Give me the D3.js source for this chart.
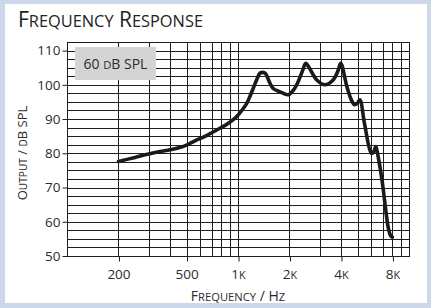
<!DOCTYPE html>
<html>
<head>
<meta charset="utf-8">
<script src="https://cdn.jsdelivr.net/npm/d3@7"></script>
<style>
  html, body { margin: 0; padding: 0; background: #cdd9eb; }
  svg { display: block; }
  text { font-family: "Open Sans", "Noto Sans", sans-serif; fill: #2b2b2b; }
  .sc { text-transform: uppercase; }
</style>
</head>
<body>
<svg id="chart" width="431" height="308"></svg>
<script>
// ---- data ----
const frequencies = [200, 250, 300, 350, 400, 450, 500, 574, 650, 751, 850, 938, 1002, 1060, 1125, 1174, 1228, 1290, 1346, 1441, 1520, 1600, 1750, 1974, 2120, 2220, 2380, 2490, 2620, 2880, 3220, 3610, 3850, 3990, 4330, 4600, 4800, 4970, 5160, 5500, 6020, 6200, 6400, 6600, 6950, 7250, 7550, 7800, 8000];
const outputDb    = [77.6, 78.8, 79.8, 80.5, 81.0, 81.6, 82.4, 83.9, 85.1, 86.8, 88.3, 89.8, 91.2, 92.7, 94.6, 96.6, 99.0, 101.6, 103.4, 103.4, 101.0, 99.0, 98.0, 97.1, 98.6, 100.3, 104.0, 106.3, 104.8, 101.5, 100.0, 101.5, 104.2, 106.3, 99.5, 95.6, 94.2, 94.5, 95.6, 88.5, 80.0, 80.3, 82.0, 79.0, 72.2, 65.0, 58.5, 56.0, 55.5];
const xTickValues = [200, 500, 1000, 2000, 4000, 8000];
const xTickLabels = ["200", "500", "1k", "2k", "4k", "8k"];
const xGridValues = [200, 300, 400, 500, 600, 700, 800, 900, 1000, 2000, 3000, 4000, 5000, 6000, 7000, 8000, 9000];
const yTickValues = [50, 60, 70, 80, 90, 100, 110];
const yGridValues = [52.5, 55, 57.5, 60, 62.5, 65, 67.5, 70, 72.5, 75, 77.5, 80, 82.5, 85, 87.5, 90, 92.5, 95, 97.5, 100, 102.5, 105, 107.5, 110];
const titleText = "Frequency Response";
const xAxisTitle = "Frequency / Hz";
const yAxisTitle = "Output / dB SPL";
const levelLabel = "60 dB SPL";

// ---- helpers ----
function smallCaps(sel, str, size, ratio) {
  sel.text(null);
  const runs = str.match(/[a-z]+|[^a-z]+/g) || [];
  runs.forEach(r => {
    const lower = /^[a-z]+$/.test(r);
    const t = sel.append("tspan").attr("font-size", lower ? size * ratio : size).text(r);
    if (lower) t.attr("class", "sc");
  });
  return sel;
}

// ---- layout ----
const svg = d3.select("#chart");
const plot = { left: 67, right: 409, top: 42, bottom: 256 };

svg.append("rect").attr("x", 5).attr("y", 4).attr("width", 422).attr("height", 299).attr("fill", "#ffffff");

const x = d3.scaleLog().domain([100, 10000]).range([plot.left, plot.right]);
const y = d3.scaleLinear().domain([50, 112.5]).range([plot.bottom, plot.top]);

const px = v => Math.round(v) + 0.5;

// grid
const grid = svg.append("g").attr("stroke", "#1e1e1e").attr("stroke-width", 1).attr("shape-rendering", "crispEdges");
grid.selectAll("line.h").data(yGridValues).join("line")
  .attr("x1", plot.left).attr("x2", plot.right)
  .attr("y1", d => px(y(d))).attr("y2", d => px(y(d)));
grid.selectAll("line.v").data(xGridValues).join("line")
  .attr("y1", plot.top).attr("y2", plot.bottom)
  .attr("x1", d => px(x(d))).attr("x2", d => px(x(d)));
grid.append("rect").attr("x", px(plot.left)).attr("y", px(plot.top))
  .attr("width", Math.round(plot.right) - Math.round(plot.left))
  .attr("height", Math.round(plot.bottom) - Math.round(plot.top))
  .attr("fill", "none");

// axes
const xAxis = d3.axisBottom(x).tickValues(xTickValues).tickFormat(() => "").tickSize(5).tickPadding(4);
const gx = svg.append("g").attr("transform", `translate(0,${px(plot.bottom)})`).call(xAxis);
gx.select(".domain").remove();
gx.selectAll(".tick line").attr("stroke", "#1e1e1e").attr("transform", "translate(0.5,0)");
gx.selectAll(".tick text").each(function(d, i) {
  const t = d3.select(this).attr("fill", "#2b2b2b").attr("y", 22).attr("dy", null);
  smallCaps(t, xTickLabels[i], 13.5, 0.8);
});

const yAxis = d3.axisLeft(y).tickValues(yTickValues).tickSize(5).tickPadding(2);
const gy = svg.append("g").attr("transform", `translate(${px(plot.left)},0)`).call(yAxis);
gy.select(".domain").remove();
gy.selectAll(".tick line").attr("stroke", "#1e1e1e");
gy.selectAll(".tick text").attr("font-size", 13.5).attr("fill", "#2b2b2b").attr("font-family", '"Open Sans", sans-serif');

// level label box
svg.append("rect").attr("x", 75).attr("y", 47).attr("width", 81).attr("height", 33).attr("fill", "#d4d4d4");
smallCaps(svg.append("text").attr("x", 115.5).attr("y", 68.5).attr("text-anchor", "middle"), levelLabel, 14, 0.8);

// curve
const line = d3.line().x((d, i) => x(frequencies[i])).y(d => y(d)).curve(d3.curveCatmullRom.alpha(0.5));
svg.append("path").datum(outputDb).attr("d", line)
  .attr("fill", "none").attr("stroke", "#1a1a1a").attr("stroke-width", 3.6)
  .attr("stroke-linejoin", "round").attr("stroke-linecap", "round");

// titles
smallCaps(svg.append("text").attr("x", 18).attr("y", 27).attr("font-weight", 500).style("fill", "#222"), titleText, 21, 0.78);
smallCaps(svg.append("text").attr("x", 238).attr("y", 300.5).attr("text-anchor", "middle"), xAxisTitle, 14, 0.8);
smallCaps(svg.append("text").attr("transform", `translate(27,153) rotate(-90)`).attr("text-anchor", "middle"), yAxisTitle, 13, 0.78);
</script>
</body>
</html>
